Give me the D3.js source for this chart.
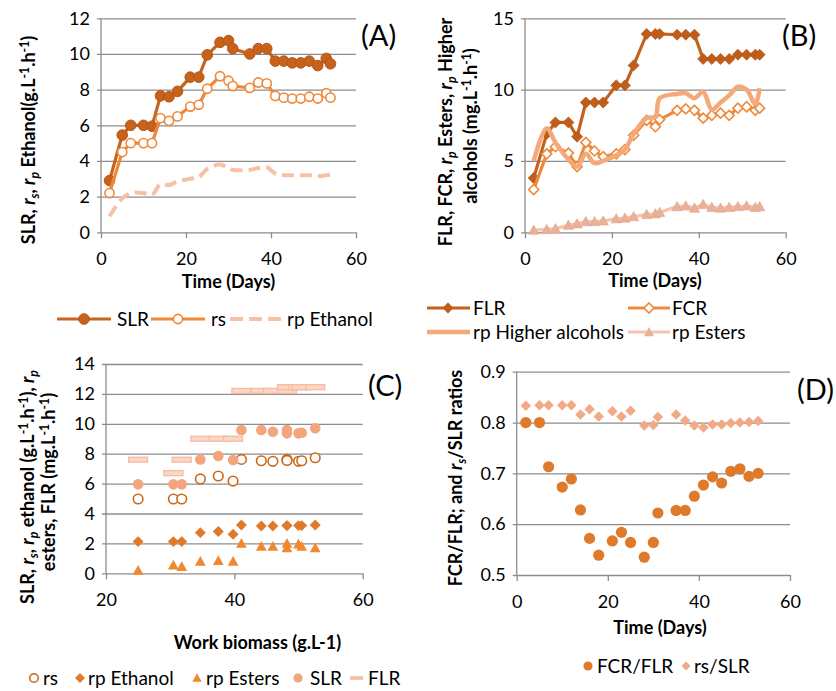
<!DOCTYPE html>
<html><head><meta charset="utf-8">
<script src="https://cdn.jsdelivr.net/npm/d3@7"></script>
<style>
body{margin:0;background:#fff}
svg{display:block}
text{font-family:Lato,'Open Sans',sans-serif;fill:#000}
</style>
</head><body>
<svg id="chart" width="836" height="691"></svg>
<script>
// ---------- DATA ----------
// Panel A
const daysA = [2,5,7,10,12,14,16,18,21,23,25,28,30,31,35,37,39,41,43,45,47,49,51,53,54];
const slrA  = [2.9,5.45,6.0,6.0,5.95,7.65,7.6,7.9,8.7,8.7,9.95,10.65,10.75,10.3,10.0,10.3,10.3,9.6,9.6,9.5,9.5,9.6,9.35,9.75,9.45];
const rsA   = [2.2,4.5,5.0,5.0,5.0,6.4,6.25,6.5,7.05,7.15,8.05,8.75,8.5,8.2,8.1,8.4,8.35,7.65,7.55,7.5,7.5,7.6,7.5,7.8,7.55];
const rpEthanolA = [0.9,1.9,2.2,2.2,2.1,2.7,2.65,2.85,3.0,3.1,3.55,3.8,3.6,3.5,3.5,3.6,3.65,3.3,3.2,3.2,3.2,3.2,3.15,3.2,3.25];
// Panel B
const daysB = [2,5,7,10,12,14,16,18,21,23,25,28,30,31,35,37,39,41,43,45,47,49,51,53,54];
const flrB  = [3.8,6.9,7.7,7.7,6.7,9.1,9.1,9.1,10.3,10.3,11.7,13.9,13.9,13.9,13.85,13.85,13.85,12.15,12.15,12.15,12.15,12.45,12.45,12.45,12.45];
const fcrB  = [3.0,5.5,6.0,5.55,4.6,6.3,5.7,5.3,5.5,5.8,6.8,7.85,7.4,7.9,8.55,8.65,8.55,8.0,8.2,8.35,8.2,8.7,8.8,8.55,8.7];
const rpHigherAlcB = [5.0,7.3,6.3,5.1,4.6,5.5,4.85,5.0,5.4,5.8,6.9,8.0,8.1,9.4,9.7,9.75,9.4,9.85,8.6,9.1,9.6,10.2,10.0,9.0,10.1];
const rpEstersB = [0.15,0.2,0.25,0.5,0.6,0.75,0.75,0.8,0.95,1.0,1.1,1.25,1.3,1.4,1.8,1.85,1.7,1.95,1.75,1.7,1.75,1.8,1.85,1.75,1.8];
// Panel C
const biomassC = [25,30.5,31.8,34.7,37.5,39.8,41.1,44.2,46,48.2,48.2,50,50.5,52.6];
const rsC   = [4.97,4.97,4.97,6.31,6.51,6.17,7.62,7.53,7.49,7.62,7.55,7.49,7.53,7.73];
const rpEthanolC = [2.12,2.12,2.12,2.72,2.79,2.61,3.23,3.17,3.17,3.19,3.19,3.19,3.19,3.23];
const rpEstersC  = [0.2,0.55,0.45,0.8,0.85,0.8,2.0,1.8,1.8,2.0,1.7,1.95,1.8,1.7];
const slrC  = [5.95,5.95,5.95,7.62,7.85,7.58,9.59,9.59,9.47,9.59,9.36,9.36,9.4,9.7];
const flrC  = [7.6,6.7,7.6,9.0,9.0,9.0,12.2,12.2,12.2,12.2,12.45,12.45,12.45,12.45];
// Panel D
const daysD = [2,5,7,10,12,14,16,18,21,23,25,28,30,31,35,37,39,41,43,45,47,49,51,53];
const fcrFlrD = [0.8,0.8,0.713,0.673,0.689,0.628,0.572,0.539,0.567,0.584,0.564,0.535,0.564,0.622,0.627,0.627,0.655,0.677,0.693,0.681,0.704,0.709,0.694,0.7];
const rsSlrD  = [0.833,0.834,0.834,0.834,0.834,0.816,0.826,0.812,0.822,0.812,0.823,0.794,0.795,0.811,0.816,0.804,0.794,0.79,0.796,0.796,0.799,0.8,0.801,0.803];
// Ticks
const ticksTime = [0,20,40,60];
const ticksA = [0,2,4,6,8,10,12];
const ticksB = [0,5,10,15];
const ticksCx = [20,40,60];
const ticksC = [0,2,4,6,8,10,12,14];
const ticksD = [0.5,0.6,0.7,0.8,0.9];

// ---------- HELPERS ----------
const svg = d3.select('#chart');
const FONT = "Lato, 'Open Sans', sans-serif";
const FS_TICK = 18, FS_LEG = 19, FS_TITLE = 18, FS_TAG = 29;
const GRID = '#8d8d8d';

const diamondType = {draw(ctx, size){const r=Math.sqrt(size/2);ctx.moveTo(0,-r);ctx.lineTo(r,0);ctx.lineTo(0,r);ctx.lineTo(-r,0);ctx.closePath();}};
const triType = {draw(ctx, size){const r=Math.sqrt(size)/2;ctx.moveTo(0,-r*1.05);ctx.lineTo(r*1.05,r*0.85);ctx.lineTo(-r*1.05,r*0.85);ctx.closePath();}};
const sym = (type, size) => d3.symbol().type(type).size(size)();

function panel(o){
  const x = d3.scaleLinear().domain(o.xd).range(o.xr);
  const y = d3.scaleLinear().domain(o.yd).range(o.yr);
  const g = svg.append('g');
  const w = o.xr[1]-o.xr[0];
  const ya = g.append('g').attr('transform',`translate(${o.xr[1]},0)`)
    .call(d3.axisLeft(y).tickValues(o.yt).tickSize(w+4).tickPadding(7).tickFormat(o.yf || d3.format('d')));
  ya.select('.domain').remove();
  ya.selectAll('line').attr('stroke',GRID).attr('stroke-width',1.3);
  ya.attr('font-size',FS_TICK).attr('font-family',FONT);
  ya.selectAll('text').attr('fill','#000');
  g.append('line').attr('x1',o.xr[0]).attr('x2',o.xr[0]).attr('y1',o.yr[0]).attr('y2',o.yr[1])
    .attr('stroke',GRID).attr('stroke-width',1.3);
  const xa = g.append('g').attr('transform',`translate(0,${o.yr[0]})`)
    .call(d3.axisBottom(x).tickValues(o.xt).tickSize(6).tickPadding(14).tickFormat(d3.format('d')));
  xa.select('.domain').remove();
  xa.selectAll('line').attr('stroke',GRID).attr('stroke-width',1.3);
  xa.attr('font-size',FS_TICK).attr('font-family',FONT);
  xa.selectAll('text').attr('fill','#000');
  return {g,x,y};
}

function rich(text, parts){
  let shift = 0;
  parts.forEach(p => {
    const [t,k] = p;
    const ts = text.append('tspan').text(t);
    let target = 0;
    if (k && k.includes('sub')) target = 4;
    if (k && k.includes('sup')) target = -6;
    if (target !== shift){ ts.attr('dy', target-shift); shift = target; }
    if (target !== 0) ts.attr('font-size','0.68em');
    if (k && k.includes('i')) ts.attr('font-style','italic');
  });
}

function vtitle(cx, cy, parts){
  const t = svg.append('text').attr('transform',`translate(${cx},${cy}) rotate(-90)`)
    .attr('text-anchor','middle').attr('dy','0.35em')
    .attr('font-weight','bold').attr('font-size',FS_TITLE).attr('font-family',FONT);
  rich(t, parts);
}
function htext(x, y, s, opts={}){
  return svg.append('text').attr('x',x).attr('y',y).text(s)
    .attr('font-size',opts.fs||FS_LEG).attr('font-family',FONT)
    .attr('font-weight',opts.bold?'bold':'normal')
    .attr('text-anchor',opts.anchor||'start')
    .attr('dy',opts.dy||null);
}

// ---------- PANEL A ----------
{
  const C_SLR='#C7641D', C_RS='#F0883A', C_ETH='#F6C1A6';
  const {g,x,y} = panel({xd:[0,60],xr:[101,356],yd:[0,12],yr:[232.3,18.3],yt:ticksA,xt:ticksTime});
  const line = vals => d3.line().x((d,i)=>x(daysA[i])).y(d=>y(d))(vals);
  g.append('path').attr('d',line(slrA)).attr('fill','none').attr('stroke',C_SLR).attr('stroke-width',3.2);
  g.selectAll('.slr').data(slrA).join('circle').attr('cx',(d,i)=>x(daysA[i])).attr('cy',d=>y(d)).attr('r',5.3)
    .attr('fill','#C8621B').attr('stroke','#B4561A').attr('stroke-width',1);
  g.append('path').attr('d',line(rsA)).attr('fill','none').attr('stroke',C_RS).attr('stroke-width',3.2);
  g.selectAll('.rs').data(rsA).join('circle').attr('cx',(d,i)=>x(daysA[i])).attr('cy',d=>y(d)).attr('r',4.6)
    .attr('fill','#fff').attr('stroke',C_RS).attr('stroke-width',1.6);
  const sm = d3.line().x((d,i)=>x(daysA[i])).y(d=>y(d)).curve(d3.curveCatmullRom.alpha(0.5));
  g.append('path').attr('d',sm(rpEthanolA)).attr('fill','none').attr('stroke',C_ETH).attr('stroke-width',4)
    .attr('stroke-dasharray','12,6');
  htext(361,46,'(A)',{fs:FS_TAG});
  htext(228.5,288,'Time (Days)',{bold:true,anchor:'middle',fs:FS_TITLE});
  vtitle(29,140,[['SLR, '],['r','i'],['s','isub'],[', '],['r','i'],['p','isub'],[' Ethanol(g.L'],['-1','sup'],['.h'],['-1','sup'],[')']]);
  // legend
  const ly = 319;
  svg.append('line').attr('x1',57).attr('x2',111).attr('y1',ly).attr('y2',ly).attr('stroke',C_SLR).attr('stroke-width',3.2);
  svg.append('circle').attr('cx',84).attr('cy',ly).attr('r',5.3).attr('fill','#C8621B').attr('stroke','#B4561A');
  htext(117,ly,'SLR',{dy:'0.35em'});
  svg.append('line').attr('x1',151).attr('x2',205).attr('y1',ly).attr('y2',ly).attr('stroke',C_RS).attr('stroke-width',3.2);
  svg.append('circle').attr('cx',178).attr('cy',ly).attr('r',4.6).attr('fill','#fff').attr('stroke',C_RS).attr('stroke-width',1.6);
  htext(211,ly,'rs',{dy:'0.35em'});
  svg.append('line').attr('x1',230).attr('x2',283).attr('y1',ly).attr('y2',ly).attr('stroke',C_ETH).attr('stroke-width',4).attr('stroke-dasharray','13,6');
  htext(287,ly,'rp Ethanol',{dy:'0.35em'});
}

// ---------- PANEL B ----------
{
  const C_FLR='#C2621C', C_FCR='#EE8A3E', C_HA='#F5A878', C_EST='#F5C3AE', C_ESTM='#E9B198';
  const {g,x,y} = panel({xd:[0,60],xr:[525,785.7],yd:[0,15],yr:[232.3,18.3],yt:ticksB,xt:ticksTime});
  const line = vals => d3.line().x((d,i)=>x(daysB[i])).y(d=>y(d))(vals);
  g.append('path').attr('d',line(flrB)).attr('fill','none').attr('stroke',C_FLR).attr('stroke-width',3.2);
  g.selectAll('.flr').data(flrB).join('path').attr('transform',(d,i)=>`translate(${x(daysB[i])},${y(d)})`)
    .attr('d',sym(diamondType,60)).attr('fill','#C05E19').attr('stroke','#B0561A').attr('stroke-width',0.8);
  g.append('path').attr('d',line(fcrB)).attr('fill','none').attr('stroke',C_FCR).attr('stroke-width',3.2);
  g.selectAll('.fcr').data(fcrB).join('path').attr('transform',(d,i)=>`translate(${x(daysB[i])},${y(d)})`)
    .attr('d',sym(diamondType,50)).attr('fill','#fff').attr('stroke',C_FCR).attr('stroke-width',1.6);
  const sm = d3.line().x((d,i)=>x(daysB[i])).y(d=>y(d)).curve(d3.curveCatmullRom.alpha(0.5));
  g.append('path').attr('d',sm(rpHigherAlcB)).attr('fill','none').attr('stroke',C_HA).attr('stroke-width',4.5);
  g.append('path').attr('d',line(rpEstersB)).attr('fill','none').attr('stroke',C_EST).attr('stroke-width',3.2);
  g.selectAll('.est').data(rpEstersB).join('path').attr('transform',(d,i)=>`translate(${x(daysB[i])},${y(d)})`)
    .attr('d',sym(triType,95)).attr('fill',C_ESTM).attr('stroke','#E3A58A').attr('stroke-width',0.6);
  htext(782,46,'(B)',{fs:FS_TAG});
  htext(655,287,'Time (Days)',{bold:true,anchor:'middle',fs:FS_TITLE});
  vtitle(446,132,[['FLR, FCR, '],['r','i'],['p','isub'],[' Esters, '],['r','i'],['p','isub'],[' Higher']]);
  vtitle(471,126,[['alcohols (mg.L'],['-1','sup'],['.h'],['-1','sup'],[')']]);
  // legend
  const r1 = 308, r2 = 332;
  svg.append('line').attr('x1',427).attr('x2',470).attr('y1',r1).attr('y2',r1).attr('stroke',C_FLR).attr('stroke-width',3.2);
  svg.append('path').attr('transform',`translate(448,${r1})`).attr('d',sym(diamondType,60)).attr('fill','#C05E19');
  htext(473,r1,'FLR',{dy:'0.35em'});
  svg.append('line').attr('x1',628).attr('x2',670).attr('y1',r1).attr('y2',r1).attr('stroke',C_FCR).attr('stroke-width',3.2);
  svg.append('path').attr('transform',`translate(649,${r1})`).attr('d',sym(diamondType,50)).attr('fill','#fff').attr('stroke',C_FCR).attr('stroke-width',1.6);
  htext(672,r1,'FCR',{dy:'0.35em'});
  svg.append('line').attr('x1',427).attr('x2',470).attr('y1',r2).attr('y2',r2).attr('stroke',C_HA).attr('stroke-width',4.5);
  htext(473,r2,'rp Higher alcohols',{dy:'0.35em'});
  svg.append('line').attr('x1',628).attr('x2',670).attr('y1',r2).attr('y2',r2).attr('stroke',C_EST).attr('stroke-width',3.2);
  svg.append('path').attr('transform',`translate(649,${r2})`).attr('d',sym(triType,95)).attr('fill',C_ESTM);
  htext(672,r2,'rp Esters',{dy:'0.35em'});
}

// ---------- PANEL C ----------
{
  const C_RS='#C8691C', C_ETH='#E07A2B', C_EST='#F0882F', C_SLR='#F3A57E', C_FLR='#F5BCA3';
  const {g,x,y} = panel({xd:[20,60],xr:[106,362.7],yd:[0,14],yr:[573.3,364],yt:ticksC,xt:ticksCx});
  const pts = vals => vals.map((v,i)=>[x(biomassC[i]), y(v)]);
  g.selectAll('.flr').data(pts(flrC)).join('rect').attr('x',d=>d[0]-9.5).attr('y',d=>d[1]-2.5).attr('width',19).attr('height',5)
    .attr('fill','#FAD6C7').attr('stroke',C_FLR).attr('stroke-width',1.3);
  g.selectAll('.rs').data(pts(rsC)).join('circle').attr('cx',d=>d[0]).attr('cy',d=>d[1]).attr('r',4.8)
    .attr('fill','#fff').attr('stroke',C_RS).attr('stroke-width',1.6);
  g.selectAll('.eth').data(pts(rpEthanolC)).join('path').attr('transform',d=>`translate(${d[0]},${d[1]})`)
    .attr('d',sym(diamondType,60)).attr('fill',C_ETH);
  g.selectAll('.est').data(pts(rpEstersC)).join('path').attr('transform',d=>`translate(${d[0]},${d[1]})`)
    .attr('d',sym(triType,105)).attr('fill',C_EST);
  g.selectAll('.slr').data(pts(slrC)).join('circle').attr('cx',d=>d[0]).attr('cy',d=>d[1]).attr('r',5.3)
    .attr('fill',C_SLR);
  htext(368,396,'(C)',{fs:FS_TAG});
  htext(257.5,649,'Work biomass (g.L-1)',{bold:true,anchor:'middle',fs:FS_TITLE});
  vtitle(28,487,[['SLR, '],['r','i'],['s','isub'],[', '],['r','i'],['p','isub'],[' ethanol (g.L'],['-1','sup'],['.h'],['-1','sup'],['), '],['r','i'],['p','isub']]);
  vtitle(49,482,[['esters, FLR (mg.L'],['-1','sup'],['.h'],['-1','sup'],[')']]);
  // legend
  const ly = 678;
  svg.append('circle').attr('cx',34).attr('cy',ly).attr('r',4.3).attr('fill','#fff').attr('stroke',C_RS).attr('stroke-width',1.6);
  htext(43,ly,'rs',{dy:'0.35em'});
  svg.append('path').attr('transform',`translate(80,${ly})`).attr('d',sym(diamondType,50)).attr('fill',C_ETH);
  htext(88,ly,'rp Ethanol',{dy:'0.35em'});
  svg.append('path').attr('transform',`translate(197,${ly})`).attr('d',sym(triType,80)).attr('fill',C_EST);
  htext(206,ly,'rp Esters',{dy:'0.35em'});
  svg.append('circle').attr('cx',298).attr('cy',ly).attr('r',4.6).attr('fill',C_SLR);
  htext(310,ly,'SLR',{dy:'0.35em'});
  svg.append('rect').attr('x',350).attr('y',ly-1.8).attr('width',13).attr('height',3.6).attr('fill',C_FLR);
  htext(368,ly,'FLR',{dy:'0.35em'});
}

// ---------- PANEL D ----------
{
  const C_FCR='#E07A2B', C_RS='#F2A985';
  const {g,x,y} = panel({xd:[0,60],xr:[516.7,790],yd:[0.5,0.9],yr:[575,371.7],yt:ticksD,xt:ticksTime,yf:d3.format('.1f')});
  g.selectAll('.rsslr').data(rsSlrD).join('path').attr('transform',(d,i)=>`translate(${x(daysD[i])},${y(d)})`)
    .attr('d',sym(diamondType,55)).attr('fill',C_RS);
  g.selectAll('.fcrflr').data(fcrFlrD).join('circle').attr('cx',(d,i)=>x(daysD[i])).attr('cy',d=>y(d)).attr('r',5.6)
    .attr('fill',C_FCR);
  htext(797,400,'(D)',{fs:FS_TAG});
  htext(660,634,'Time (Days)',{bold:true,anchor:'middle',fs:FS_TITLE});
  vtitle(456,478,[['FCR/FLR; and '],['r','i'],['s','isub'],['/SLR ratios']]);
  const ly = 666;
  svg.append('circle').attr('cx',588).attr('cy',ly).attr('r',4.6).attr('fill',C_FCR);
  htext(597,ly,'FCR/FLR',{dy:'0.35em'});
  svg.append('path').attr('transform',`translate(686,${ly})`).attr('d',sym(diamondType,40)).attr('fill',C_RS);
  htext(694,ly,'rs/SLR',{dy:'0.35em'});
}
</script>
</body></html>
